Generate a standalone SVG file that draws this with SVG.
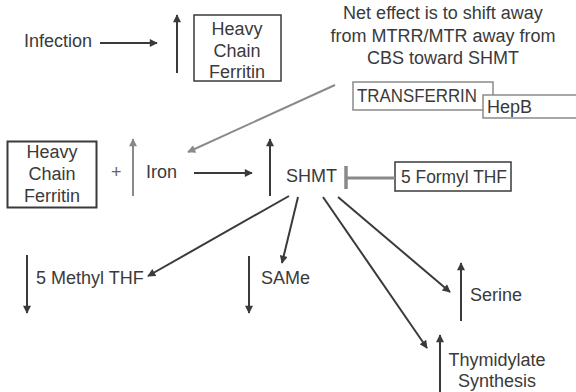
<svg xmlns="http://www.w3.org/2000/svg" width="576" height="392" viewBox="0 0 576 392">
<defs>
<style>
text{font-family:"Liberation Sans",Arial,sans-serif;font-size:18px;fill:#3a3a3a}
.c{text-anchor:middle}
.box{fill:#fff;stroke:#3a3a3a;stroke-width:1.5}
.gbox{fill:#fff;stroke:#8a8a8a;stroke-width:1.5}
.ln{stroke:#3a3a3a;stroke-width:2;fill:none}
.gl{stroke:#8a8a8a;stroke-width:2;fill:none}
</style>
<marker id="ah" viewBox="0 0 10 10" refX="9" refY="5" markerWidth="9" markerHeight="8" orient="auto" markerUnits="userSpaceOnUse">
<path d="M0,0 L10,5 L0,10 z" fill="#3a3a3a"/>
</marker>
<marker id="ahg" viewBox="0 0 10 10" refX="9" refY="5" markerWidth="9" markerHeight="8" orient="auto" markerUnits="userSpaceOnUse">
<path d="M0,0 L10,5 L0,10 z" fill="#8a8a8a"/>
</marker>
</defs>
<rect width="576" height="392" fill="#fff"/>

<g id="infection"><text x="24" y="47">Infection</text></g>
<g id="hcf-top">
<rect class="box" x="194" y="15" width="87" height="66"/>
<text class="c" x="237" y="35">Heavy</text>
<text class="c" x="237" y="57">Chain</text>
<text class="c" x="237" y="78">Ferritin</text>
</g>
<g id="note">
<text class="c" x="443" y="19">Net effect is to shift away</text>
<text class="c" x="443" y="42">from MTRR/MTR away from</text>
<text class="c" x="443" y="64">CBS toward SHMT</text>
</g>
<g id="transferrin">
<rect class="gbox" x="353" y="82" width="140" height="28"/>
<text x="357" y="102" textLength="120" lengthAdjust="spacingAndGlyphs">TRANSFERRIN</text>
</g>
<g id="hepb">
<rect class="gbox" x="483" y="95" width="95" height="23"/>
<text x="487" y="113">HepB</text>
</g>
<g id="hcf-mid">
<rect class="box" x="7.5" y="141.5" width="89" height="66" style="stroke-width:2"/>
<text class="c" x="52" y="158">Heavy</text>
<text class="c" x="52" y="180">Chain</text>
<text class="c" x="52" y="202">Ferritin</text>
</g>
<g id="plus"><text x="111" y="178" style="fill:#666">+</text></g>
<g id="iron"><text x="146" y="178">Iron</text></g>
<g id="shmt"><text x="286" y="182">SHMT</text></g>
<g id="formyl">
<rect class="box" x="395" y="162" width="116" height="29"/>
<text x="401" y="183" textLength="106" lengthAdjust="spacingAndGlyphs">5 Formyl THF</text>
</g>
<g id="methyl"><text x="36" y="284">5 Methyl THF</text></g>
<g id="same"><text x="261" y="284">SAMe</text></g>
<g id="serine"><text x="470" y="301">Serine</text></g>
<g id="thym">
<text class="c" x="497" y="366">Thymidylate</text>
<text class="c" x="497" y="387">Synthesis</text>
</g>

<g id="connectors">
<line class="ln" x1="100" y1="43" x2="157" y2="43" marker-end="url(#ah)"/>
<line class="ln" x1="177" y1="73" x2="177" y2="15" marker-end="url(#ah)"/>
<line class="gl" x1="335" y1="85" x2="188" y2="152" marker-end="url(#ahg)"/>
<line class="gl" x1="133" y1="196" x2="133" y2="139" marker-end="url(#ahg)"/>
<line class="ln" x1="194" y1="173" x2="252" y2="173" marker-end="url(#ah)"/>
<line class="ln" x1="270" y1="196" x2="270" y2="139" marker-end="url(#ah)"/>
<line x1="346" y1="166" x2="346" y2="189" stroke="#8a8a8a" stroke-width="3.5"/>
<line x1="346" y1="178" x2="395" y2="178" stroke="#8a8a8a" stroke-width="3"/>
<line class="ln" x1="289" y1="196" x2="148" y2="276" marker-end="url(#ah)"/>
<line class="ln" x1="298" y1="197" x2="282" y2="263" marker-end="url(#ah)"/>
<line class="ln" x1="323" y1="197" x2="427" y2="348" marker-end="url(#ah)"/>
<line class="ln" x1="338" y1="197" x2="450" y2="292" marker-end="url(#ah)"/>
<line class="ln" x1="27" y1="255" x2="27" y2="313" marker-end="url(#ah)"/>
<line class="ln" x1="249" y1="256" x2="249" y2="313" marker-end="url(#ah)"/>
<line class="ln" x1="461" y1="321" x2="461" y2="263" marker-end="url(#ah)"/>
<line class="ln" x1="440" y1="392" x2="440" y2="335" marker-end="url(#ah)"/>
</g>
</svg>
